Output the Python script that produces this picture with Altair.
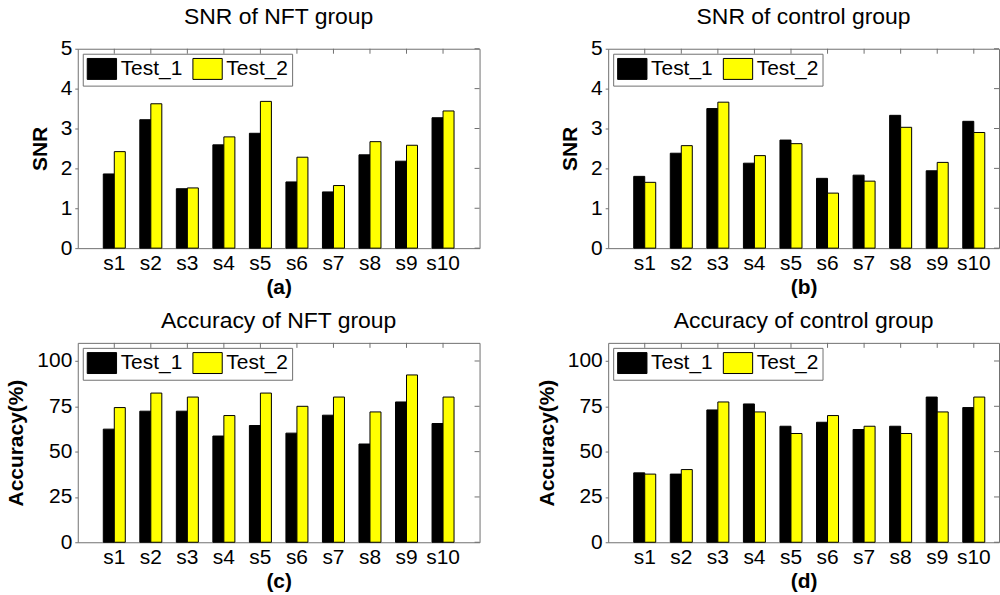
import altair as alt
import pandas as pd

subjects = ["s1", "s2", "s3", "s4", "s5", "s6", "s7", "s8", "s9", "s10"]
tests = ["Test_1", "Test_2"]

snr_nft_t1 = [1.86, 3.22, 1.49, 2.59, 2.88, 1.66, 1.41, 2.34, 2.18, 3.27]
snr_nft_t2 = [2.42, 3.62, 1.51, 2.79, 3.68, 2.28, 1.57, 2.67, 2.58, 3.44]
snr_ctrl_t1 = [1.80, 2.38, 3.50, 2.13, 2.71, 1.75, 1.83, 3.33, 1.94, 3.18]
snr_ctrl_t2 = [1.65, 2.57, 3.66, 2.32, 2.62, 1.38, 1.68, 3.03, 2.15, 2.90]
acc_nft_t1 = [62.4, 72.3, 72.3, 58.6, 64.4, 60.2, 70.1, 54.2, 77.4, 65.5]
acc_nft_t2 = [74.3, 82.3, 80.1, 69.9, 82.3, 75.0, 80.1, 71.9, 92.3, 80.1]
acc_ctrl_t1 = [38.3, 37.6, 73.0, 76.3, 64.0, 66.2, 62.2, 64.0, 80.1, 74.3]
acc_ctrl_t2 = [37.6, 40.1, 77.4, 71.9, 60.0, 69.9, 64.0, 60.0, 71.9, 80.1]

snr_ticks = [0, 1, 2, 3, 4, 5]
acc_ticks = [0, 25, 50, 75, 100]

GRAY = "#707070"
FONT = "Liberation Sans"


def panel(t1, t2, title, ytitle, xtitle, ymax, yticks, width, outer, align):
    df = pd.DataFrame({
        "subject": subjects * 2,
        "test": [tests[0]] * len(subjects) + [tests[1]] * len(subjects),
        "value": list(t1) + list(t2),
    })
    height = 200
    xenc = alt.X(
        "subject:N", sort=subjects,
        scale=alt.Scale(paddingInner=0, paddingOuter=outer, align=align),
        axis=alt.Axis(title=xtitle, labelAngle=0, ticks=False, domain=False,
                      labelFontSize=21, labelPadding=4, titleFontSize=21,
                      titleFontWeight="bold", titlePadding=3, labelColor="black"),
    )
    yscale = alt.Scale(domain=[0, ymax], nice=False)
    yaxis = alt.Axis(title=ytitle, values=yticks, domain=False, ticks=True,
                     tickSize=3, tickColor=GRAY, labelFontSize=21, labelPadding=3,
                     titleFontSize=21, titleFontWeight="bold", titlePadding=10,
                     labelColor="black", grid=False)
    bars = alt.Chart(df).mark_bar(stroke="black", strokeWidth=1, opacity=1).encode(
        x=xenc,
        xOffset=alt.XOffset("test:N", sort=tests,
                            scale=alt.Scale(paddingInner=0, paddingOuter=0.66)),
        y=alt.Y("value:Q", scale=yscale, axis=yaxis),
        color=alt.Color(
            "test:N",
            scale=alt.Scale(domain=tests, range=["#000000", "#ffff00"]),
            legend=alt.Legend(
                title=None, orient="top-left", direction="horizontal",
                symbolType="M-1,-1L1.8,-1L1.8,1L-1,1Z", symbolSize=441,
                symbolStrokeColor="black", symbolStrokeWidth=1, symbolOpacity=1,
                labelFontSize=21, labelOffset=12, columnPadding=8,
                strokeColor=GRAY, fillColor="white", padding=4, offset=5,
                labelColor="black",
            ),
        ),
    )
    ytick_df = pd.DataFrame({"value": yticks})
    right_ticks = alt.Chart(ytick_df).mark_rule(color=GRAY, strokeWidth=1).encode(
        y=alt.Y("value:Q", scale=yscale, axis=yaxis),
        x=alt.value(width - 5), x2=alt.value(width),
    )
    xtick_df = pd.DataFrame({"subject": subjects})
    top_ticks = alt.Chart(xtick_df).mark_rule(color=GRAY, strokeWidth=1).encode(
        x=xenc, y=alt.value(0), y2=alt.value(5),
    )
    return alt.layer(bars, right_ticks, top_ticks).properties(
        width=width, height=height,
        title=alt.TitleParams(title, fontSize=23, fontWeight="normal", offset=9,
                              anchor="middle", color="black"),
    )


W1 = 403
W2 = 392
a = panel(snr_nft_t1, snr_nft_t2, "SNR of NFT group", "SNR", "(a)", 5, snr_ticks, W1, 0.5, 0.5)
b = panel(snr_ctrl_t1, snr_ctrl_t2, "SNR of control group", "SNR", "(b)", 5, snr_ticks, W2, 0.345, 0.725)
c = panel(acc_nft_t1, acc_nft_t2, "Accuracy of NFT group", "Accuracy(%)", "(c)", 110, acc_ticks, W1, 0.5, 0.5)
d = panel(acc_ctrl_t1, acc_ctrl_t2, "Accuracy of control group", "Accuracy(%)", "(d)", 110, acc_ticks, W2, 0.345, 0.725)

chart = alt.concat(a, b, c, d, columns=2).resolve_scale(
    color="independent"
).resolve_legend(color="independent").properties(
    spacing={"column": 55, "row": 12},
    padding={"left": 5, "top": 4, "right": 0, "bottom": 0},
    background="white",
).configure(font=FONT).configure_view(stroke=GRAY, strokeWidth=1).configure_axis(grid=False)

chart.save("out.html", embed_options={"renderer": "svg", "actions": False})
